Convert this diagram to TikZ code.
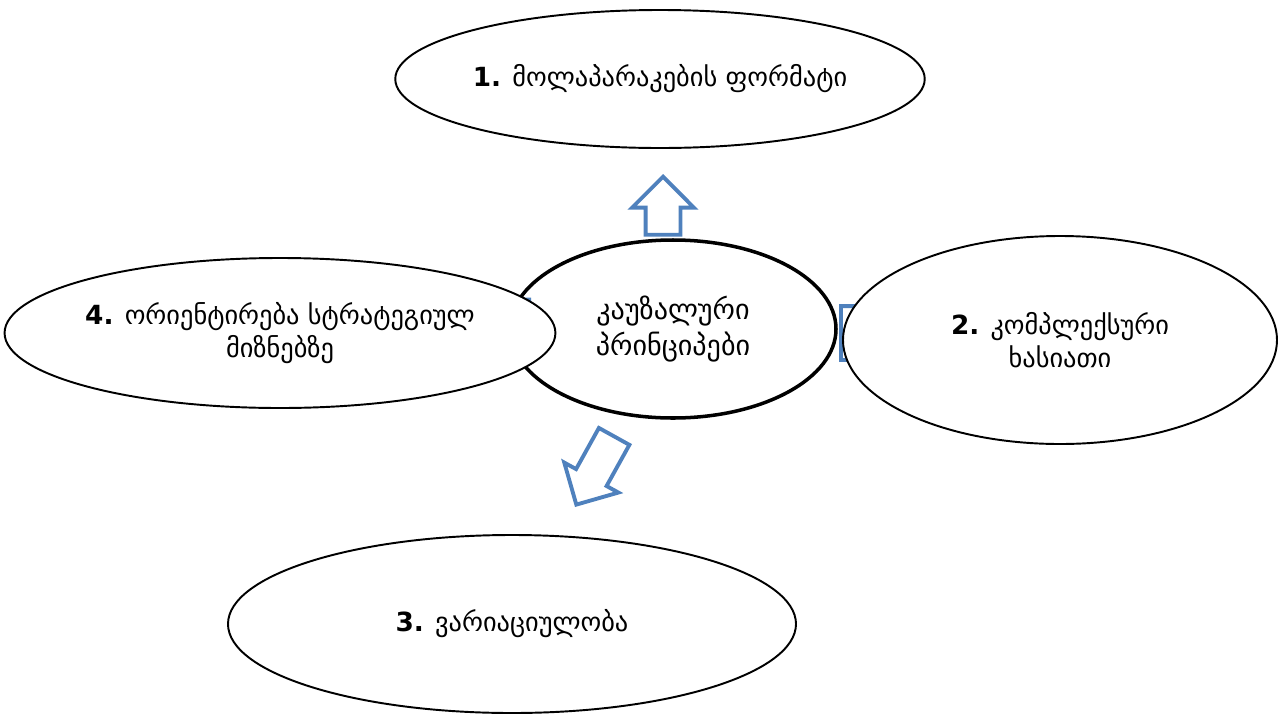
\documentclass[tikz,border=0pt]{standalone}
\usepackage{fontspec}
\setmainfont{DejaVu Sans}
\usetikzlibrary{shapes.geometric,shapes.arrows}
\definecolor{arrowblue}{RGB}{79,129,189}

\begin{document}
\begin{tikzpicture}[x=0.2mm, y=-0.2mm,
    bubble/.style={ellipse, draw, fill=white, line width=1.1pt, inner sep=0pt,
        align=center, font=\fontsize{15}{19}\selectfont},
    blockarrow/.style={single arrow, draw=arrowblue, fill=white, line width=2.2pt,
        inner xsep=0pt, inner ysep=0.31cm, minimum width=0pt, minimum height=1.16cm,
        single arrow head extend=0.27cm}]
    \useasboundingbox (0,0) rectangle (1280,715);
    \node[bubble, line width=2pt, minimum width=6.52cm, minimum height=3.56cm,
        font=\fontsize{16}{20}\selectfont]
        (principles) at (673,329) {კაუზალური\\პრინციპები};
    % arrows lie over the centre and under the outer ellipses
    \node[blockarrow, rotate=90, anchor=tip] (up) at (663,174) {};
    \node[blockarrow, rotate=241, anchor=tip, minimum height=1.56cm] (down) at (575,507) {};
    \node[blockarrow, anchor=tail, inner ysep=0.5cm, minimum height=2cm]
        (right) at (839,333) {};
    \node[blockarrow, rotate=180, anchor=tail, inner ysep=0.55cm, minimum height=2cm]
        (left) at (531,329) {};
    \node[bubble, minimum width=10.8cm, minimum height=3cm]
        (goals) at (280,333) {\textbf{4.} ორიენტირება სტრატეგიულ\\მიზნებზე};
    \node[bubble, minimum width=8.68cm, minimum height=4.16cm]
        (complex) at (1060,340) {\textbf{2.} კომპლექსური\\ხასიათი};
    \node[bubble, minimum width=10.32cm, minimum height=2.76cm]
        (format) at (660,79) {\textbf{1.} მოლაპარაკების ფორმატი};
    \node[bubble, minimum width=11.36cm, minimum height=3.56cm]
        (variety) at (512,624) {\textbf{3.} ვარიაციულობა};
\end{tikzpicture}
\end{document}
